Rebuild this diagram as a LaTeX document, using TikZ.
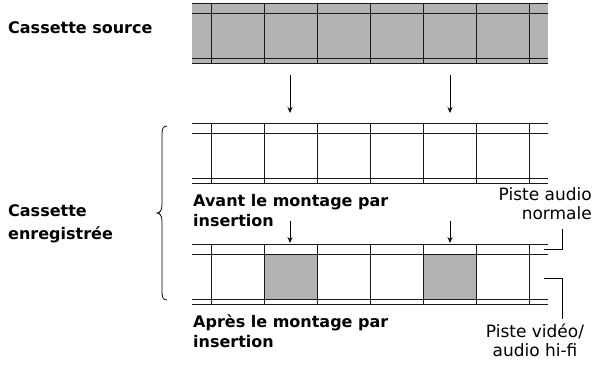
\documentclass[tikz,border=0pt]{standalone}
\usepackage{fontspec}
\setmainfont{DejaVu Sans}
\usetikzlibrary{arrows.meta}
\definecolor{tapegray}{RGB}{179,179,179}
\tikzset{
  stripline/.style={line width=0.85pt, draw=black!90},
  boldlabel/.style={font=\fontsize{16}{20}\selectfont\bfseries, inner sep=0pt, align=left},
  thinlabel/.style={font=\fontsize{17}{19}\selectfont, inner sep=0pt},
  feed/.style={line width=0.8pt, -{Stealth[length=6pt,width=5pt]}},
  leader/.style={line width=0.8pt},
}
\newcommand{\tapelines}[1]{% top y
  \foreach \dy in {0,10,55,60} \draw[stripline] (192,#1+\dy) -- (548,#1+\dy);
  \foreach \xx in {211.5,264.5,317.5,370.5,423.5,476.5,529.5} \draw[stripline] (\xx,#1) -- (\xx,#1+60);
}
\begin{document}
\begin{tikzpicture}[x=1pt,y=-1pt]
\useasboundingbox (0,0) rectangle (602,364);
% strips
\fill[tapegray] (192,3) rectangle (548,63);
\tapelines{3}
\tapelines{123}
\fill[tapegray] (264.5,254) rectangle (317.5,299);
\fill[tapegray] (423.5,254) rectangle (476.5,299);
\tapelines{244}
% labels
\node[boldlabel, anchor=west] (src) at (8,28) {Cassette source};
\node[boldlabel, anchor=west, font=\fontsize{16}{23}\selectfont\bfseries] (rec) at (8,224) {Cassette\\enregistrée};
\node[boldlabel, anchor=north west] (avant) at (193,194.5) {Avant le montage par\\insertion};
\node[boldlabel, anchor=north west] (apres) at (193,314.5) {Après le montage par\\insertion};
\node[thinlabel, anchor=north east, align=right] (audio) at (592,187) {Piste audio\\normale};
\node[thinlabel, anchor=north, align=center] (video) at (535,324) {Piste vidéo/\\audio hi-fi};
% arrows
\coordinate (a1s) at (290,75); \coordinate (a1e) at (290,113);
\coordinate (a2s) at (450,75); \coordinate (a2e) at (450,113);
\coordinate (b1s) at (290,221); \coordinate (b1e) at (290,243);
\coordinate (b2s) at (450,221); \coordinate (b2e) at (450,243);
\draw[feed] (a1s) -- (a1e);
\draw[feed] (a2s) -- (a2e);
\draw[feed] (b1s) -- (b1e);
\draw[feed] (b2s) -- (b2e);
% leaders
\coordinate (l1a) at (562,229); \coordinate (l1b) at (544,249);
\coordinate (l2a) at (562,319); \coordinate (l2b) at (544,278);
\draw[leader] (l1a) |- (l1b);
\draw[leader] (l2a) |- (l2b);
% brace
\draw[line width=0.8pt] (167,126) .. controls (163,126) and (162,129) .. (162,134) -- (162,205)
  .. controls (162,210) and (160,213) .. (157,213)
  .. controls (160,213) and (162,216) .. (162,221) -- (162,292)
  .. controls (162,297) and (163,300) .. (167,300);
\end{tikzpicture}
\end{document}
